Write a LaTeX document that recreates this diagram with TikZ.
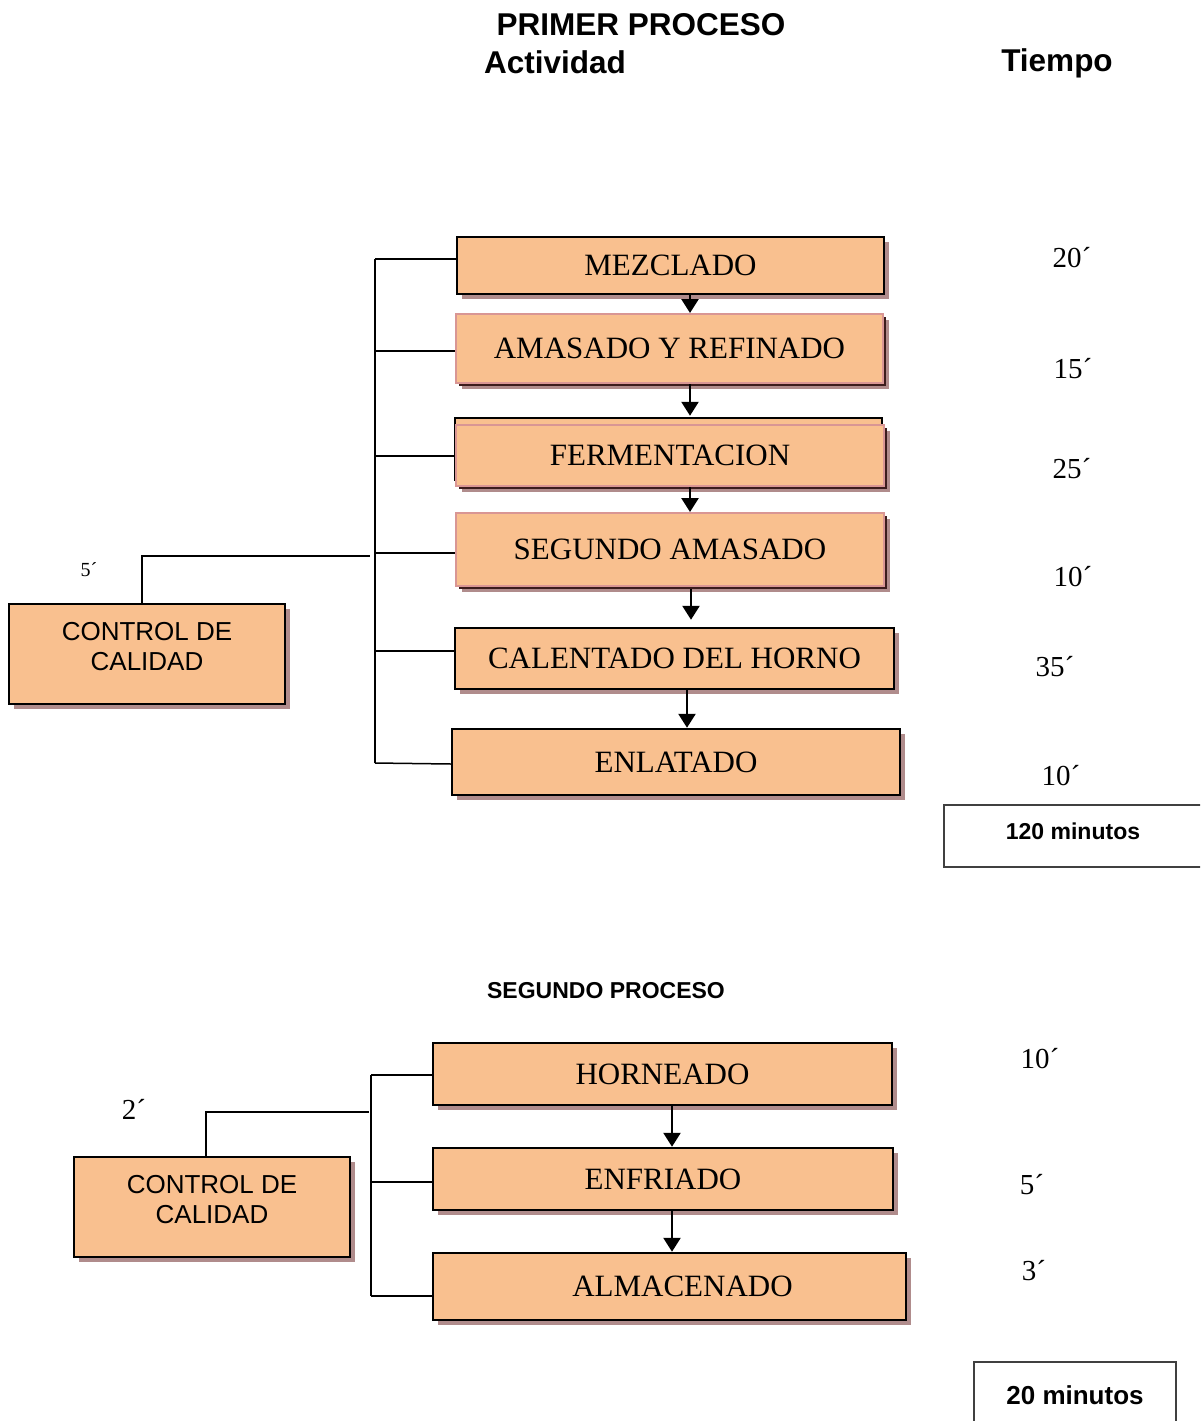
\documentclass[tikz,border=0pt]{standalone}
\usepackage{fontspec}
\setmainfont{Liberation Serif}
\setsansfont{Liberation Sans}
\usetikzlibrary{arrows.meta,shadows}
\definecolor{peach}{RGB}{249,192,143}
\definecolor{mauve}{RGB}{176,140,140}
\definecolor{darkbrown}{RGB}{60,28,28}
\definecolor{rosy}{RGB}{217,150,148}
\tikzset{
  x=1pt, y=-1pt,
  stagebox/.style={draw=black, line width=2.5pt, fill=peach, inner sep=0pt,
    font=\fontsize{31}{36}\selectfont,
    drop shadow={shadow xshift=5pt, shadow yshift=-5pt, fill=mauve, opacity=1}},
  rosybox/.style={draw=rosy, line width=2pt, fill=peach, inner sep=0pt,
    font=\fontsize{31}{36}\selectfont,
    drop shadow={shadow xshift=6pt, shadow yshift=-6pt, fill=mauve, opacity=1},
    drop shadow={shadow xshift=3pt, shadow yshift=-3pt, fill=darkbrown, opacity=1}},
  ctrlbox/.style={draw=black, line width=2.5pt, fill=peach, inner sep=0pt,
    align=center, font=\sffamily\fontsize{26}{30}\selectfont, text depth=16pt,
    drop shadow={shadow xshift=5pt, shadow yshift=-5pt, fill=mauve, opacity=1}},
  timelbl/.style={font=\fontsize{29}{34}\selectfont, inner sep=0pt},
  title/.style={font=\sffamily\bfseries\fontsize{31.5}{36}\selectfont, inner sep=0pt},
  link/.style={line width=1.5pt},
  flow/.style={line width=2.6pt, -{Triangle[width=17pt,length=14pt]}},
  totalbox/.style={draw=black!75, line width=1.3pt, inner sep=0pt},
}
\begin{document}
\begin{tikzpicture}
\clip (0,0) rectangle (1200,1421);
\fill[white] (0,0) rectangle (1200,1421);

% headings
\node[title] (h1) at (641,25) {PRIMER PROCESO};
\node[title] (h2) at (555,62) {Actividad};
\node[title] (h3) at (1057,63) {Tiempo};

% first process: stages
\node[stagebox, minimum width=427pt, minimum height=57pt] (mez) at (670.5,265.5) {MEZCLADO};
\node[rosybox, minimum width=427pt, minimum height=69pt] (ama) at (669.5,348.5) {AMASADO Y REFINADO};
\node[draw=black, line width=2.5pt, fill=peach, minimum width=427pt, minimum height=62pt] (ferback) at (668.5,449) {};
\node[rosybox, minimum width=428pt, minimum height=61pt] (fer) at (670,455.5) {FERMENTACION};
\node[rosybox, minimum width=428pt, minimum height=73pt] (seg) at (670,549.5) {SEGUNDO AMASADO};
\node[stagebox, minimum width=439pt, minimum height=61pt] (cal) at (674.5,658.5) {CALENTADO DEL HORNO};
\node[stagebox, minimum width=448pt, minimum height=66pt] (enl) at (676,762) {ENLATADO};
\node[ctrlbox, minimum width=276pt, minimum height=100pt] (cc1) at (147,654) {CONTROL DE\\CALIDAD};

% first process: flow arrows
\coordinate (ax1) at (690,0);
\coordinate (ax2) at (691,0);
\coordinate (ax3) at (687,0);
\draw[flow] (mez.south -| ax1) -- (ama.north -| ax1);
\draw[flow] (ama.south -| ax1) -- ([yshift=1pt]ferback.north -| ax1);
\draw[flow] (fer.south -| ax1) -- (seg.north -| ax1);
\draw[flow] ([yshift=-2pt]seg.south -| ax2) -- ([yshift=7pt]cal.north -| ax2);
\draw[flow] (cal.south -| ax3) -- (enl.north -| ax3);

% first process: bracket to quality control
\coordinate (t1) at (375,259);
\coordinate (t2) at (375,351);
\coordinate (t3) at (375,456);
\coordinate (t4) at (375,553);
\coordinate (t5) at (375,651);
\coordinate (t6) at (375,763);
\draw[link] (t1) -- (t6);
\draw[link] (t1) -- (t1 -| mez.west);
\draw[link] (t2) -- (t2 -| ama.west);
\draw[link] (t3) -- (t3 -| ferback.west);
\draw[link] (t4) -- (t4 -| seg.west);
\draw[link] (t5) -- (t5 -| cal.west);
\draw[link] (t6) -- ([yshift=-1pt]t6 -| enl.west);
\coordinate (q1) at (142,556);
\coordinate (q1r) at (370,556);
\draw[link] (cc1.north -| q1) -- (q1) -- (q1r);
\node[font=\fontsize{20}{24}\selectfont, inner sep=0pt] (q1t) at (89,570) {5´};

% first process: times
\node[timelbl] (tm1) at (1072,258) {20´};
\node[timelbl] (tm2) at (1073,369) {15´};
\node[timelbl] (tm3) at (1072,469) {25´};
\node[timelbl] (tm4) at (1073,577) {10´};
\node[timelbl] (tm5) at (1055,667) {35´};
\node[timelbl] (tm6) at (1061,776) {10´};
\node[totalbox, minimum width=264pt, minimum height=62pt] (tot1box) at (1076,836) {};
\node[font=\sffamily\bfseries\fontsize{23}{27}\selectfont, inner sep=0pt] (tot1) at (1073,831) {120 minutos};

% second process
\node[font=\sffamily\bfseries\fontsize{23}{27}\selectfont, inner sep=0pt] (h4) at (606,991) {SEGUNDO PROCESO};
\node[stagebox, minimum width=459pt, minimum height=62pt] (hor) at (662.5,1074) {HORNEADO};
\node[stagebox, minimum width=460pt, minimum height=62pt] (enf) at (663,1179) {ENFRIADO};
\node[stagebox, minimum width=473pt, minimum height=67pt] (alm) at (669.5,1286.5) {\hspace*{26pt}ALMACENADO};
\node[ctrlbox, minimum width=276pt, minimum height=100pt] (cc2) at (212,1207) {CONTROL DE\\CALIDAD};

\coordinate (ax4) at (672,0);
\draw[flow] (hor.south -| ax4) -- (enf.north -| ax4);
\draw[flow] (enf.south -| ax4) -- (alm.north -| ax4);

\coordinate (u1) at (371,1075);
\coordinate (u2) at (371,1182);
\coordinate (u3) at (371,1296);
\draw[link] (u1) -- (u3);
\draw[link] (u1) -- (u1 -| hor.west);
\draw[link] (u2) -- (u2 -| enf.west);
\draw[link] (u3) -- (u3 -| alm.west);
\coordinate (q2) at (206,1112);
\coordinate (q2r) at (369,1112);
\draw[link] (cc2.north -| q2) -- (q2) -- (q2r);
\node[timelbl] (q2t) at (134,1109) {2´};

\node[timelbl] (tm7) at (1040,1059) {10´};
\node[timelbl] (tm8) at (1032,1185) {5´};
\node[timelbl] (tm9) at (1034,1271) {3´};
\node[totalbox, minimum width=202pt, minimum height=70pt] (tot2box) at (1075,1397) {};
\node[font=\sffamily\bfseries\fontsize{26}{30}\selectfont, inner sep=0pt] (tot2) at (1075,1395) {20 minutos};
\end{tikzpicture}
\end{document}
